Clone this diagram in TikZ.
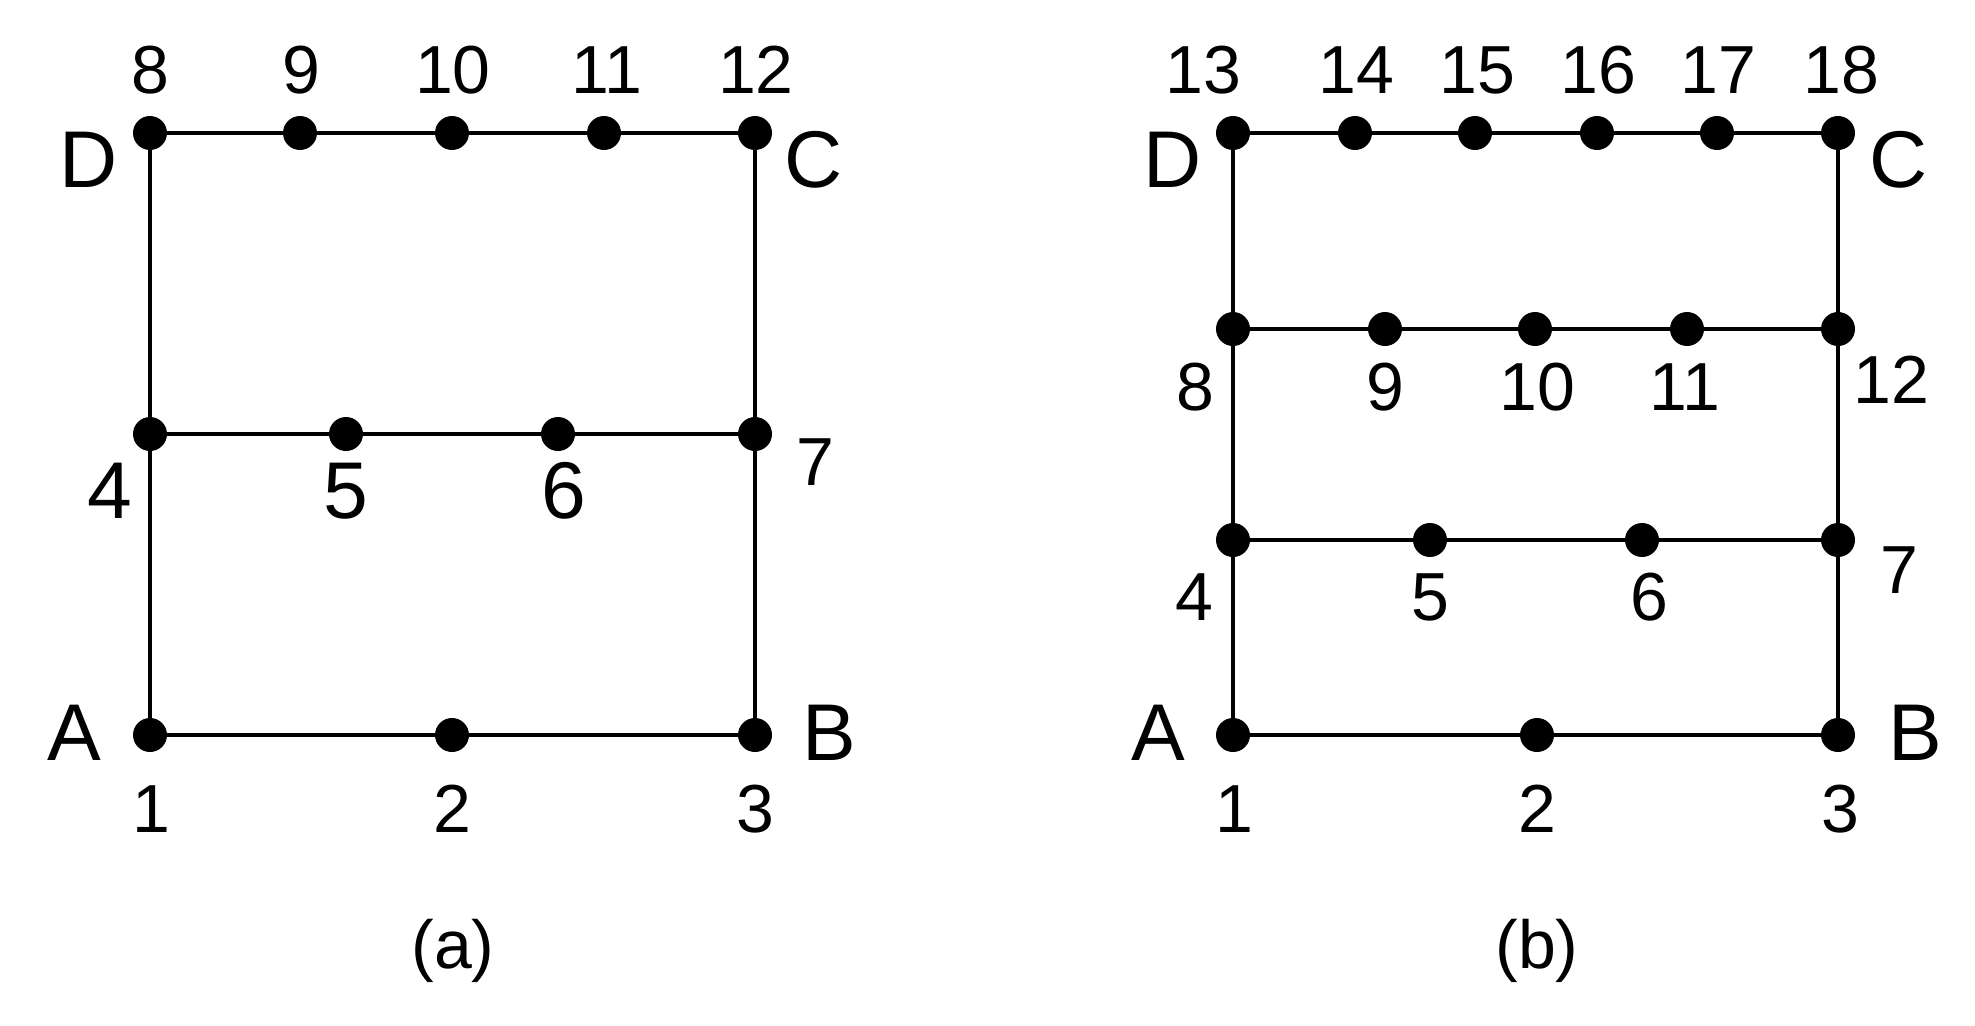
\documentclass[tikz,border=0pt]{standalone}
\usepackage{fontspec}
\setmainfont{Liberation Sans}
\begin{document}
\begin{tikzpicture}[x=0.02cm,y=-0.02cm,
  dot/.style={circle,fill=black,inner sep=0pt,minimum size=0.68cm},
  num/.style={inner sep=0pt,font=\fontsize{38.7}{42}\selectfont},
  bignum/.style={inner sep=0pt,font=\fontsize{45.8}{48}\selectfont},
  lett/.style={inner sep=0pt,font=\fontsize{45.8}{48}\selectfont},
  edge/.style={line width=2.6pt,black}]
\useasboundingbox (0,0) rectangle (1975,1025);
% ---------- (a) ----------
\node[dot] (a1) at (150,735) {};
\node[dot] (a2) at (452,735) {};
\node[dot] (a3) at (755,735) {};
\node[dot] (a4) at (150,434) {};
\node[dot] (a5) at (346,434) {};
\node[dot] (a6) at (558,434) {};
\node[dot] (a7) at (755,434) {};
\node[dot] (a8) at (150,133) {};
\node[dot] (a9) at (300,133) {};
\node[dot] (a10) at (452,133) {};
\node[dot] (a11) at (604,133) {};
\node[dot] (a12) at (755,133) {};
\draw[edge] (a1) -- (a2) -- (a3);
\draw[edge] (a4) -- (a5) -- (a6) -- (a7);
\draw[edge] (a8) -- (a9) -- (a10) -- (a11) -- (a12);
\draw[edge] (a1) -- (a4) -- (a8);
\draw[edge] (a3) -- (a7) -- (a12);
\node[num] (la8) at (150,70) {8};
\node[num] (la9) at (301,70) {9};
\node[num] (la10) at (453,70) {10};
\node[num] (la11) at (607,70) {11};
\node[num] (la12) at (756,70) {12};
\node[lett] (laD) at (89,160) {D};
\node[lett] (laC) at (814,160) {C};
\node[bignum] (la4) at (110,491) {4};
\node[bignum] (la5) at (346,491) {5};
\node[bignum] (la6) at (564,491) {6};
\node[num] (la7) at (815,462) {7};
\node[lett] (laA) at (74,733) {A};
\node[lett] (laB) at (829,733) {B};
\node[num] (la1) at (151,809) {1};
\node[num] (la2) at (452,809) {2};
\node[num] (la3) at (755,809) {3};
\node[num] (capa) at (453,951) {(a)};
% ---------- (b) ----------
\node[dot] (b1) at (1233,735) {};
\node[dot] (b2) at (1537,735) {};
\node[dot] (b3) at (1838,735) {};
\node[dot] (b4) at (1233,540) {};
\node[dot] (b5) at (1430,540) {};
\node[dot] (b6) at (1642,540) {};
\node[dot] (b7) at (1838,540) {};
\node[dot] (b8) at (1233,329) {};
\node[dot] (b9) at (1385,329) {};
\node[dot] (b10) at (1535,329) {};
\node[dot] (b11) at (1687,329) {};
\node[dot] (b12) at (1838,329) {};
\node[dot] (b13) at (1233,133) {};
\node[dot] (b14) at (1355,133) {};
\node[dot] (b15) at (1475,133) {};
\node[dot] (b16) at (1597,133) {};
\node[dot] (b17) at (1717,133) {};
\node[dot] (b18) at (1838,133) {};
\draw[edge] (b1) -- (b2) -- (b3);
\draw[edge] (b4) -- (b5) -- (b6) -- (b7);
\draw[edge] (b8) -- (b9) -- (b10) -- (b11) -- (b12);
\draw[edge] (b13) -- (b14) -- (b15) -- (b16) -- (b17) -- (b18);
\draw[edge] (b1) -- (b4) -- (b8) -- (b13);
\draw[edge] (b3) -- (b7) -- (b12) -- (b18);
\node[num] (lb13) at (1203,70) {13};
\node[num] (lb14) at (1356,70) {14};
\node[num] (lb15) at (1477,70) {15};
\node[num] (lb16) at (1598,70) {16};
\node[num] (lb17) at (1718,70) {17};
\node[num] (lb18) at (1841,70) {18};
\node[lett] (lbD) at (1173,160) {D};
\node[lett] (lbC) at (1899,160) {C};
\node[num] (lb8) at (1195,387) {8};
\node[num] (lb9) at (1385,387) {9};
\node[num] (lb10) at (1537,387) {10};
\node[num] (lb11) at (1685,387) {11};
\node[num] (lb12) at (1891,380) {12};
\node[num] (lb4) at (1194,597) {4};
\node[num] (lb5) at (1430,597) {5};
\node[num] (lb6) at (1649,597) {6};
\node[num] (lb7) at (1899,570) {7};
\node[lett] (lbA) at (1158,733) {A};
\node[lett] (lbB) at (1915,733) {B};
\node[num] (lb1) at (1234,809) {1};
\node[num] (lb2) at (1537,809) {2};
\node[num] (lb3) at (1840,809) {3};
\node[num] (capb) at (1537,951) {(b)};
\end{tikzpicture}
\end{document}
